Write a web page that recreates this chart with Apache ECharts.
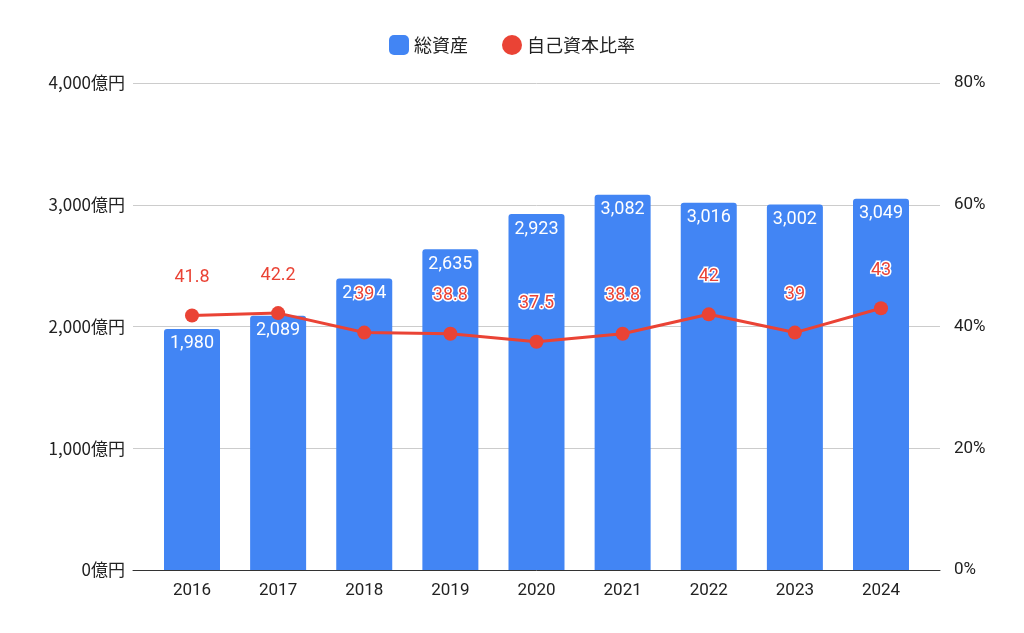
<!DOCTYPE html>
<html>
<head>
<meta charset="utf-8">
<script src="https://cdn.jsdelivr.net/npm/echarts@6/dist/echarts.min.js"></script>
<style>html,body{margin:0;background:#fff}#main{width:1024px;height:633px}</style>
</head>
<body>
<div id="main"></div>
<script>
var years = [2016, 2017, 2018, 2019, 2020, 2021, 2022, 2023, 2024];
var totalAssets = [1980, 2089, 2394, 2635, 2923, 3082, 3016, 3002, 3049];
var equityRatio = [41.8, 42.2, 39, 38.8, 37.5, 38.8, 42, 39, 43];

var font = 'Roboto, "Noto Sans CJK JP", sans-serif';
var chart = echarts.init(document.getElementById('main'));
chart.setOption({
    textStyle: {fontFamily: font},
    legend: {
        top: 30,
        itemGap: 34,
        textStyle: {fontSize: 18, color: '#222', fontFamily: '"Noto Sans CJK JP", sans-serif'},
        data: [
            {name: '総資産', icon: 'roundRect', itemStyle: {color: '#4285f4'}},
            {name: '自己資本比率', icon: 'circle', itemStyle: {color: '#ea4335'}}
        ],
        itemWidth: 20, itemHeight: 20
    },
    grid: {left: 133, right: 84, top: 83, bottom: 63},
    xAxis: {
        type: 'value',
        min: 2015.315,
        max: 2024.685,
        splitLine: {show: false},
        axisLine: {show: true, lineStyle: {color: '#333'}},
        axisTick: {show: false},
        axisLabel: {customValues: years, fontSize: 17, color: '#222', margin: 12, formatter: function (v) { return String(v); }}
    },
    yAxis: [{
        type: 'value', min: 0, max: 4000, interval: 1000,
        axisLine: {show: false}, axisTick: {show: false},
        axisLabel: {fontSize: 17, color: '#222', margin: 8, fontFamily: '"Noto Sans CJK JP", sans-serif',
            formatter: function (v) { return v.toLocaleString('en-US') + '億円'; }},
        splitLine: {lineStyle: {color: '#ccc'}}
    }, {
        type: 'value', min: 0, max: 80, interval: 20,
        axisLine: {show: false}, axisTick: {show: false},
        axisLabel: {fontSize: 17, color: '#222', margin: 14, formatter: '{value}%'},
        splitLine: {show: false}
    }],
    series: [{
        name: '総資産',
        type: 'bar',
        barWidth: 56,
        data: years.map(function (y, i) { return [y, totalAssets[i]]; }),
        itemStyle: {color: '#4285f4', borderRadius: [3, 3, 0, 0]},
        label: {show: true, position: 'insideTop', distance: 6, color: '#fff', fontSize: 18,
            formatter: function (p) { return p.value[1].toLocaleString('en-US'); }}
    }, {
        name: '自己資本比率',
        type: 'line',
        yAxisIndex: 1,
        data: years.map(function (y, i) { return [y, equityRatio[i]]; }),
        symbol: 'circle',
        symbolSize: 14,
        lineStyle: {color: '#ea4335', width: 3},
        itemStyle: {color: '#ea4335'},
        label: {show: true, position: 'top', distance: 22, color: '#ea4335', fontSize: 18,
            textBorderColor: '#fff', textBorderWidth: 3,
            formatter: function (p) { return p.value[1]; }}
    }]
});
</script>
</body>
</html>
